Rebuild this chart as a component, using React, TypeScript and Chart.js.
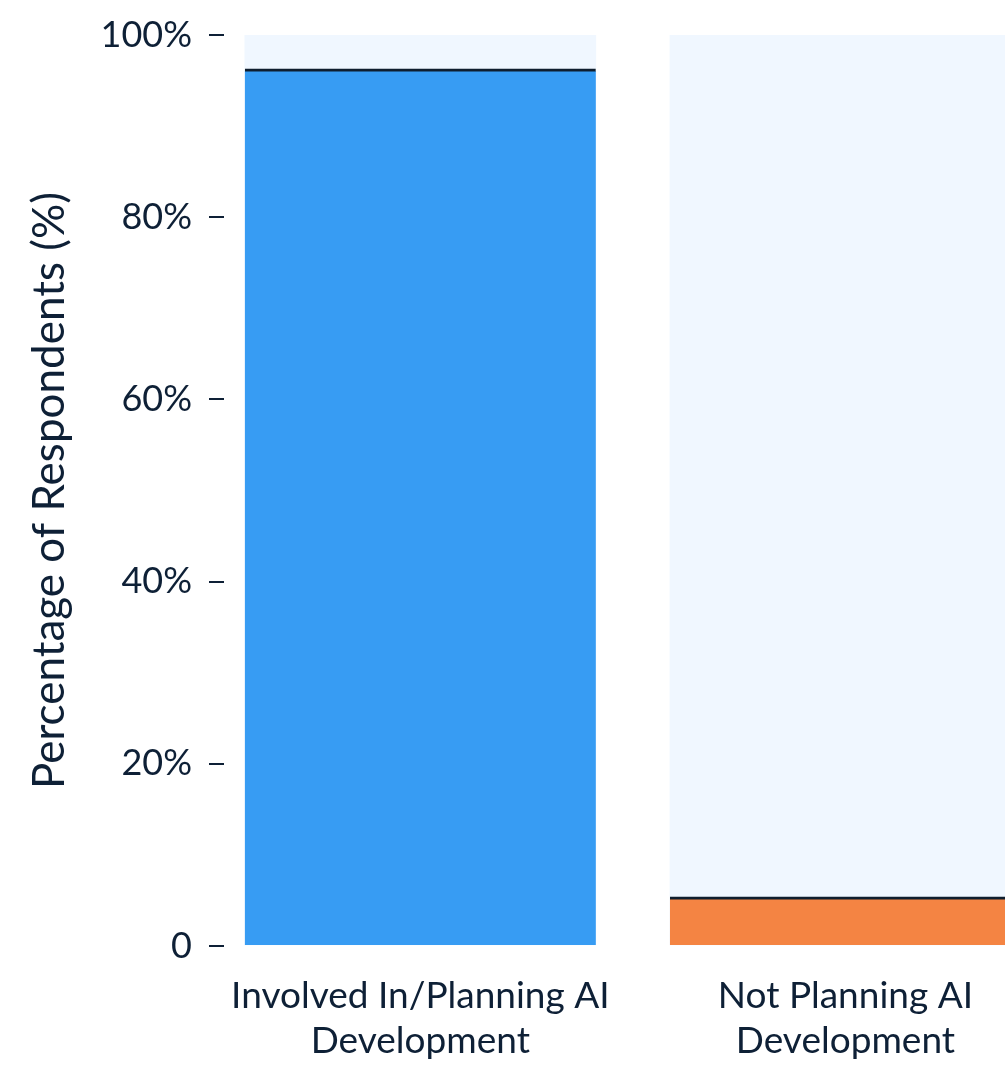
import React, { useEffect, useRef } from "react";
import { Chart, registerables } from "chart.js";

Chart.register(...registerables);

const categories: string[][] = [
  ["Involved In/Planning AI", "Development"],
  ["Not Planning AI", "Development"],
];
const categoryIndex: number[] = [0, 1];
const shareValues: number[] = [96.3, 5.4];
const totalValues: number[] = [100, 100];
const barColors: string[] = ["#379cf3", "#f48443"];
const yTickValues: number[] = [0, 20, 40, 60, 80, 100];
const yTitle = "Percentage of Respondents (%)";

const TEXT = "#0e2036";
const FONT = "Lato";

export default function App() {
  const ref = useRef<HTMLCanvasElement | null>(null);

  useEffect(() => {
    if (!ref.current) return;
    const chart = new Chart(ref.current, {
      type: "bar",
      data: {
        datasets: [
          {
            data: categoryIndex.map((x, i) => ({ x, y: shareValues[i] })),
            backgroundColor: barColors,
            borderColor: "#0f1e2e",
            borderWidth: { top: 3, left: 0, right: 0, bottom: 0 },
            borderSkipped: false,
            grouped: false,
            barThickness: 351,
          },
          {
            data: categoryIndex.map((x, i) => ({ x, y: totalValues[i] })),
            backgroundColor: "#f0f7ff",
            borderWidth: 0,
            grouped: false,
            barThickness: 351,
          },
        ],
      },
      options: {
        animation: false,
        responsive: true,
        maintainAspectRatio: false,
        layout: { padding: { top: 35, left: 0, right: 2, bottom: 0 } },
        plugins: { legend: { display: false }, tooltip: { enabled: false } },
        scales: {
          x: {
            type: "linear",
            offset: false,
            bounds: "data",
            min: -0.4618,
            max: 1.46,
            afterBuildTicks: (scale: any) => {
              scale.ticks = categoryIndex.map((v) => ({ value: v }));
            },
            afterFit: (scale: any) => {
              scale.height = 123;
            },
            grid: { display: false },
            border: { display: false },
            ticks: {
              color: TEXT,
              font: { family: FONT, size: 37, lineHeight: "45px" },
              padding: 20,
              maxRotation: 0,
              autoSkip: false,
              callback: (v: any) => categories[Math.round(Number(v))] ?? "",
            },
          },
          y: {
            min: 0,
            max: 100,
            afterBuildTicks: (scale: any) => {
              scale.ticks = yTickValues.map((v) => ({ value: v }));
            },
            afterFit: (scale: any) => {
              scale.width = 224;
              scale.paddingTop = 0;
              scale.paddingBottom = 0;
            },
            grid: {
              drawOnChartArea: false,
              drawTicks: true,
              tickLength: 15,
              color: TEXT,
              lineWidth: 2,
            },
            border: { display: false },
            ticks: {
              color: TEXT,
              font: { family: FONT, size: 36 },
              padding: 17,
              callback: (v: any) => (v === 0 ? "0" : v + "%"),
            },
            title: {
              display: true,
              text: yTitle,
              color: TEXT,
              font: { family: FONT, size: 44 },
              padding: { top: 23, bottom: 0 },
            },
          },
        },
      },
    });
    return () => chart.destroy();
  }, []);

  return (
    <div
      style={{
        position: "absolute",
        left: 0,
        top: 0,
        width: 1005,
        height: 1069,
        overflow: "hidden",
        background: "#ffffff",
      }}
    >
      <div style={{ position: "relative", width: 1043, height: 1069 }}>
        <canvas ref={ref} />
      </div>
    </div>
  );
}
